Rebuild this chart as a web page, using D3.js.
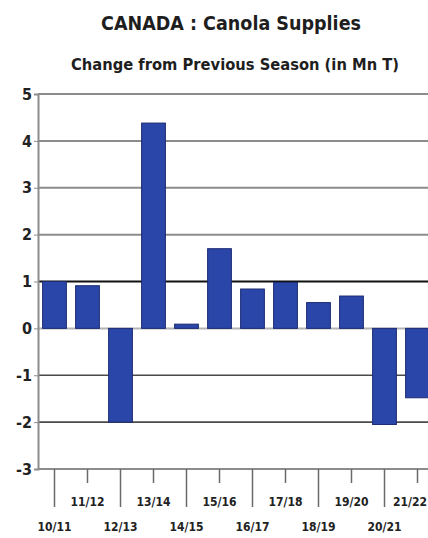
<!DOCTYPE html>
<html>
<head>
<meta charset="utf-8">
<script src="https://cdn.jsdelivr.net/npm/d3@7"></script>
<style>
  html, body { margin: 0; padding: 0; background: #ffffff; }
  svg { display: block; }
  text { font-family: "DejaVu Sans Condensed", "DejaVu Sans", sans-serif; font-weight: bold; fill: #222; }
</style>
</head>
<body>
<svg id="chart" width="428" height="538"></svg>
<script>
// Season-over-season change in Canadian canola supplies (million tonnes)
const seasons = ["10/11", "11/12", "12/13", "13/14", "14/15", "15/16",
                 "16/17", "17/18", "18/19", "19/20", "20/21", "21/22"];
const changes = [1.0, 0.91, -2.0, 4.38, 0.09, 1.70, 0.84, 0.98, 0.55, 0.69, -2.05, -1.48];
const yTicks = [5, 4, 3, 2, 1, 0, -1, -2, -3];

const titleText = "CANADA : Canola Supplies";
const subtitleText = "Change from Previous Season (in Mn T)";

const svg = d3.select("#chart");
const W = 428, H = 538;
const plotLeft = 38, plotTop = 94, plotBottom = 469;

const x = d3.scaleBand().domain(seasons).range([plotLeft, plotLeft + 33 * seasons.length])
  .paddingInner(0.28).paddingOuter(0.14);
const y = d3.scaleLinear().domain([-3, 5]).range([plotBottom, plotTop]);

// Titles
svg.append("text").attr("x", 231).attr("y", 30).attr("text-anchor", "middle")
  .attr("textLength", 260).attr("lengthAdjust", "spacingAndGlyphs")
  .style("font-size", "19px").style("fill", "#1e1e1e").text(titleText);
svg.append("text").attr("x", 235).attr("y", 70).attr("text-anchor", "middle")
  .attr("textLength", 328).attr("lengthAdjust", "spacingAndGlyphs")
  .style("font-size", "15px").style("fill", "#1e1e1e").text(subtitleText);

// Horizontal gridlines
const gridStyle = v => {
  if (v === 1) return { c: "#111", w: 2 };
  if (v === 0) return { c: "#b4b4b4", w: 2 };
  if (v < 0 && v > -3) return { c: "#4a4a4a", w: 1.6 };
  return { c: "#8c8c8c", w: 2 };
};
svg.append("g").selectAll("line").data(yTicks).join("line")
  .attr("x1", plotLeft).attr("x2", W)
  .attr("y1", d => y(d)).attr("y2", d => y(d))
  .attr("stroke", d => gridStyle(d).c)
  .attr("stroke-width", d => gridStyle(d).w);

// Bars
svg.append("g").selectAll("rect").data(seasons).join("rect")
  .attr("x", d => x(d))
  .attr("width", x.bandwidth())
  .attr("y", (d, i) => y(Math.max(0, changes[i])))
  .attr("height", (d, i) => Math.abs(y(changes[i]) - y(0)))
  .attr("fill", "#2b46a9")
  .attr("stroke", "#1b2a72")
  .attr("stroke-width", 1);

// Y axis
const yAxis = d3.axisLeft(y).tickValues(yTicks).tickSize(4).tickPadding(2)
  .tickFormat(d => String(d));
const gy = svg.append("g").attr("transform", `translate(${plotLeft},0)`).call(yAxis);
gy.select(".domain").attr("stroke", "#8c8c8c").attr("stroke-width", 2);
gy.selectAll(".tick line").attr("stroke", "#8c8c8c");
gy.selectAll(".tick text").style("font-size", "16px").style("fill", "#222")
  .style("font-family", "'DejaVu Sans Condensed', 'DejaVu Sans', sans-serif")
  .style("font-weight", "bold");

// X axis with staggered labels
const gx = svg.append("g").attr("transform", `translate(0,${plotBottom})`);
const tickG = gx.selectAll("g").data(seasons).join("g")
  .attr("transform", d => `translate(${x(d) + x.bandwidth() / 2},0)`);
tickG.append("line")
  .attr("y1", 0).attr("y2", (d, i) => i % 2 === 0 ? 38 : 14)
  .attr("stroke", "#6a6a6a").attr("stroke-width", 1.5);
tickG.append("text")
  .attr("y", (d, i) => i % 2 === 0 ? 62 : 37)
  .attr("text-anchor", "middle")
  .style("font-size", "12px").style("fill", "#222")
  .text(d => d);

// Keep the last label inside the frame
tickG.filter((d, i) => i === seasons.length - 1).select("text")
  .attr("text-anchor", "end")
  .attr("x", function(d) { return W - 1 - (x(d) + x.bandwidth() / 2); });
</script>
</body>
</html>
